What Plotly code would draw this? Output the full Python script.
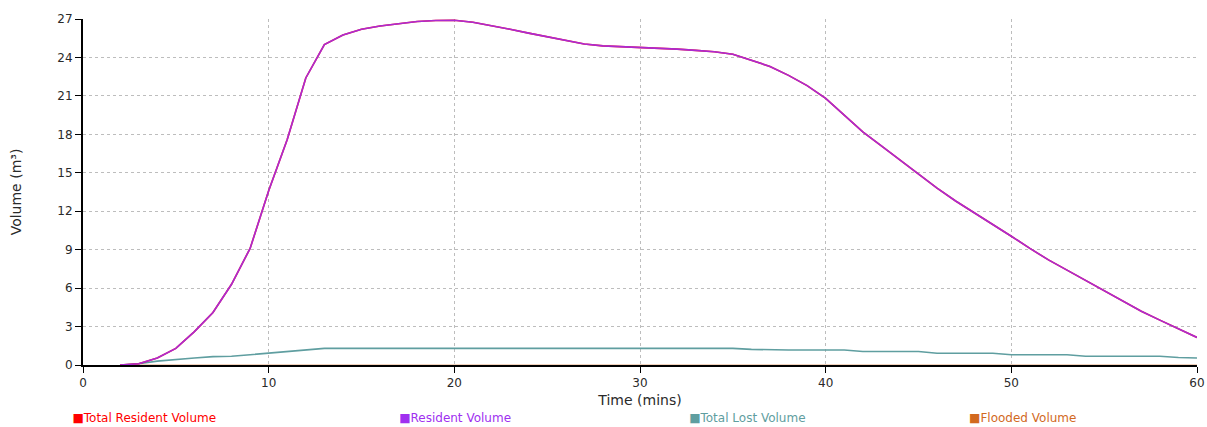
import plotly.graph_objects as go

# Time in minutes (one reading per minute, lines start at 2 mins)
time_mins = list(range(2, 61))

# Resident volume (m3)
resident_volume = [
    0, 0.1, 0.55, 1.3, 2.6, 4.1, 6.3, 9.1,
    13.6, 17.6, 22.4, 25.0, 25.75, 26.2, 26.45, 26.65, 26.8, 26.88,
    26.9, 26.75, 26.5, 26.2, 25.9, 25.6, 25.3, 25.05, 24.9, 24.85,
    24.8, 24.7, 24.65, 24.55, 24.45, 24.25, 23.8, 23.3, 22.6, 21.8,
    20.8, 19.5, 18.2, 17.1, 16.0, 14.9, 13.8, 12.8, 11.9, 11.0,
    10.05, 9.1, 8.2, 7.4, 6.6, 5.8, 4.95, 4.2, 3.5, 2.8,
    2.15,
]
# total resident volume sits right on top of the resident volume
total_resident_volume = list(resident_volume)

total_lost_volume = [
    0, 0.1, 0.3, 0.45, 0.55, 0.65, 0.68, 0.8,
    0.92, 1.05, 1.18, 1.3, 1.3, 1.3, 1.3, 1.3, 1.3, 1.3,
    1.3, 1.3, 1.3, 1.3, 1.3, 1.3, 1.3, 1.3, 1.3, 1.3,
    1.3, 1.3, 1.3, 1.3, 1.3, 1.3, 1.22, 1.17, 1.17, 1.17,
    1.17, 1.17, 1.05, 1.05, 1.05, 1.05, 0.92, 0.92, 0.92, 0.92,
    0.8, 0.8, 0.8, 0.8, 0.68, 0.68, 0.68, 0.68, 0.68, 0.58,
    0.55,
]

flooded_volume = [0] * len(time_mins)

series = [
    ("Total Resident Volume", total_resident_volume, "#FF0000", 1.0, 1.6),
    ("Resident Volume", resident_volume, "#A030F0", 0.88, 1.6),
    ("Total Lost Volume", total_lost_volume, "#5F9EA0", 1.0, 1.6),
    ("Flooded Volume", flooded_volume, "#D2691E", 1.0, 0.6),
]

fig = go.Figure()

# lines (flooded first so it stays under everything)
for name, vals, color, op, w in [series[3], series[2], series[0], series[1]]:
    fig.add_trace(go.Scatter(
        x=time_mins, y=vals, mode="lines", name=name,
        line=dict(color=color, width=w), opacity=op,
        showlegend=False,
    ))

# legend entries: small square + coloured text, each in its own legend
legend_ids = ["legend", "legend2", "legend3", "legend4"]
legend_x = [-0.0454, 0.2479, 0.5082, 0.7595]
for (name, vals, color, op, w), lid in zip(series, legend_ids):
    fig.add_trace(go.Scatter(
        x=[None], y=[None], mode="markers",
        name=f"<span style='color:{color}'>■{name}</span>",
        marker=dict(size=0.1, color="rgba(0,0,0,0)"),
        legend=lid, showlegend=True,
    ))

legend_style = dict(
    orientation="h", xanchor="left", y=-0.152, yanchor="middle",
    itemwidth=30, font=dict(size=12), bgcolor="rgba(0,0,0,0)",
)

fig.update_layout(
    width=1207, height=427,
    margin=dict(l=83, r=10, t=19, b=62, autoexpand=False),
    paper_bgcolor="white", plot_bgcolor="white",
    font=dict(family="DejaVu Sans", size=12, color="#2a2a2a"),
    showlegend=True,
    legend=dict(x=legend_x[0], **legend_style),
    legend2=dict(x=legend_x[1], **legend_style),
    legend3=dict(x=legend_x[2], **legend_style),
    legend4=dict(x=legend_x[3], **legend_style),
)

fig.update_xaxes(
    range=[0, 60], tickvals=[0, 10, 20, 30, 40, 50, 60],
    showline=True, linecolor="black", linewidth=2, layer="above traces",
    ticks="outside", ticklen=6, tickcolor="black",
    ticklabeloverflow="allow",
    showgrid=True, gridcolor="#BDBDBD", griddash="dot", gridwidth=1,
    zeroline=False,
    title=dict(text="Time (mins)", standoff=6),
)
fig.update_yaxes(
    range=[0, 27], tickvals=[0, 3, 6, 9, 12, 15, 18, 21, 24, 27],
    showline=True, linecolor="black", linewidth=2, layer="above traces",
    ticks="outside", ticklen=6, tickcolor="black",
    showgrid=True, gridcolor="#BDBDBD", griddash="dot", gridwidth=1,
    zeroline=False,
    title=dict(text="Volume (m³)", standoff=32),
)

# drop the default 8px page margin so the figure fills the window
fig.write_html(
    "out.html",
    config={"displayModeBar": False},
    post_script="document.body.style.margin = '0';",
)
